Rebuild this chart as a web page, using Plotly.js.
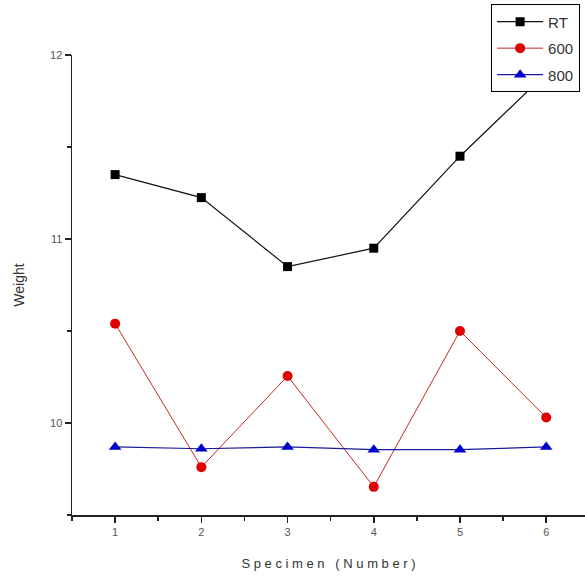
<!DOCTYPE html>
<html>
<head>
<meta charset="utf-8">
<script src="https://cdn.plot.ly/plotly-3.0.1.min.js"></script>
<style>html,body{margin:0;padding:0;background:#fff;}#chart{width:585px;height:587px;}</style>
</head>
<body>
<div id="chart"></div>
<script>
const specimens = [1, 2, 3, 4, 5, 6];
const seriesNames = ["RT", "600", "800"];
const rtValues = [11.35, 11.225, 10.85, 10.95, 11.45, 11.9];
const v600Values = [10.54, 9.76, 10.255, 9.653, 10.50, 10.03];
const v800Values = [9.87, 9.86, 9.87, 9.855, 9.855, 9.87];
const xTickVals = [1, 2, 3, 4, 5, 6];
const yTickVals = [10, 11, 12];

const traces = [
  {x: specimens, y: rtValues, name: seriesNames[0], legendgroup: "a", mode: "lines+markers",
   line: {color: "#111", width: 1.2}, marker: {symbol: "square", size: 9, color: "#000"}},
  {x: specimens, y: v600Values, name: seriesNames[1], legendgroup: "b", mode: "lines+markers",
   line: {color: "#c62828", width: 1}, marker: {symbol: "circle", size: 10, color: "#e00000"}},
  {x: specimens, y: v800Values, name: seriesNames[2], legendgroup: "c", mode: "lines+markers",
   line: {color: "#1a1a9a", width: 1.2}, marker: {symbol: "triangle-up", size: 11, color: "#0000cc"}}
];

const layout = {
  width: 585, height: 587,
  margin: {l: 72, r: 0, t: 55, b: 72},
  paper_bgcolor: "#fff", plot_bgcolor: "#fff",
  font: {family: "Arial, Liberation Sans, sans-serif", color: "#444"},
  showlegend: true,
  legend: {x: 0.817, xanchor: "left", y: 1.11, yanchor: "top",
    bgcolor: "#fff", bordercolor: "#000", borderwidth: 1, itemwidth: 46,
    font: {size: 15, color: "#333"}, tracegroupgap: 4, traceorder: "grouped"},
  xaxis: {range: [0.5, 6.45], tickvals: xTickVals, ticks: "outside", ticklen: 6, tickwidth: 1.5,
    tickcolor: "#222", showline: true, linecolor: "#222", linewidth: 1.5, showgrid: false, zeroline: false,
    tickfont: {size: 11, color: "#555"},
    minor: {dtick: 0.5, tick0: 0.5, ticks: "outside", ticklen: 4, tickwidth: 1.5, tickcolor: "#222", showgrid: false},
    title: {text: "S p e c i m e n   ( N u m b e r )", font: {size: 13, color: "#333"}, standoff: 22}},
  yaxis: {range: [9.5, 12], tickvals: yTickVals, ticks: "outside", ticklen: 6, tickwidth: 1.5,
    tickcolor: "#222", showline: true, linecolor: "#222", linewidth: 1.5, showgrid: false, zeroline: false,
    tickfont: {size: 11, color: "#555"},
    minor: {dtick: 0.5, tick0: 9.5, ticks: "outside", ticklen: 4, tickwidth: 1.5, tickcolor: "#222", showgrid: false},
    title: {text: "Weight", font: {size: 14, color: "#333"}, standoff: 22}}
};

Plotly.newPlot("chart", traces, layout, {displayModeBar: false, staticPlot: true});
</script>
</body>
</html>
